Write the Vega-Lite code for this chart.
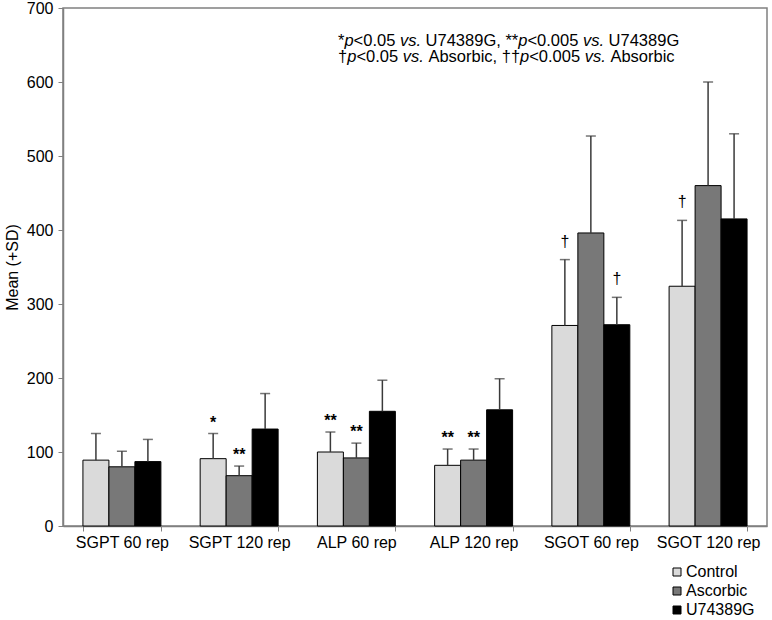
{
  "$schema": "https://vega.github.io/schema/vega-lite/v6.json",
  "width": 704,
  "height": 518,
  "autosize": {"type": "none"},
  "padding": {"left": 63, "top": 8, "right": 5, "bottom": 94},
  "background": "white",
  "config": {
    "font": "Liberation Sans",
    "view": {"stroke": "#808080", "strokeWidth": 1.5},
    "axis": {"domainColor": "#808080", "tickColor": "#808080", "labelColor": "black", "labelFont": "Liberation Sans", "titleFont": "Liberation Sans", "grid": false}
  },
  "datasets": {
    "bars": [
      {"cat": "SGPT 60 rep", "grp": "Control", "mean": 89, "upper": 125, "sig": ""},
      {"cat": "SGPT 60 rep", "grp": "Ascorbic", "mean": 80, "upper": 101, "sig": ""},
      {"cat": "SGPT 60 rep", "grp": "U74389G", "mean": 87, "upper": 117, "sig": ""},
      {"cat": "SGPT 120 rep", "grp": "Control", "mean": 91, "upper": 125, "sig": "*"},
      {"cat": "SGPT 120 rep", "grp": "Ascorbic", "mean": 68, "upper": 81, "sig": "**"},
      {"cat": "SGPT 120 rep", "grp": "U74389G", "mean": 131, "upper": 179, "sig": ""},
      {"cat": "ALP 60 rep", "grp": "Control", "mean": 100, "upper": 127, "sig": "**"},
      {"cat": "ALP 60 rep", "grp": "Ascorbic", "mean": 92, "upper": 112, "sig": "**"},
      {"cat": "ALP 60 rep", "grp": "U74389G", "mean": 155, "upper": 197, "sig": ""},
      {"cat": "ALP 120 rep", "grp": "Control", "mean": 82, "upper": 104, "sig": "**"},
      {"cat": "ALP 120 rep", "grp": "Ascorbic", "mean": 89, "upper": 104, "sig": "**"},
      {"cat": "ALP 120 rep", "grp": "U74389G", "mean": 157, "upper": 199, "sig": ""},
      {"cat": "SGOT 60 rep", "grp": "Control", "mean": 271, "upper": 360, "sig": "†"},
      {"cat": "SGOT 60 rep", "grp": "Ascorbic", "mean": 396, "upper": 527, "sig": ""},
      {"cat": "SGOT 60 rep", "grp": "U74389G", "mean": 272, "upper": 309, "sig": "†"},
      {"cat": "SGOT 120 rep", "grp": "Control", "mean": 324, "upper": 413, "sig": "†"},
      {"cat": "SGOT 120 rep", "grp": "Ascorbic", "mean": 460, "upper": 600, "sig": ""},
      {"cat": "SGOT 120 rep", "grp": "U74389G", "mean": 415, "upper": 530, "sig": ""}
    ],
    "note": [{"id": 1}]
  },
  "encoding": {
    "x": {
      "field": "cat", "type": "nominal",
      "scale": {"domain": ["SGPT 60 rep", "SGPT 120 rep", "ALP 60 rep", "ALP 120 rep", "SGOT 60 rep", "SGOT 120 rep"], "paddingInner": 0.335, "paddingOuter": 0.17},
      "axis": {"title": null, "labelAngle": 0, "labelFontSize": 16, "tickBand": "extent", "tickSize": 5, "labelPadding": 3, "domainWidth": 1.5}
    }
  },
  "layer": [
    {
      "data": {"name": "bars"},
      "layer": [
        {
          "mark": {"type": "bar", "stroke": "black", "strokeWidth": 1},
          "encoding": {
            "xOffset": {"field": "grp", "type": "nominal", "scale": {"domain": ["Control", "Ascorbic", "U74389G"], "paddingInner": 0, "paddingOuter": 0}},
            "y": {"field": "mean", "type": "quantitative", "scale": {"domain": [0, 700], "nice": false}, "axis": {"title": "Mean (+SD)", "titleFontSize": 16, "titleFontWeight": "normal", "titleColor": "black", "titlePadding": 6, "labelFontSize": 16, "values": [0, 100, 200, 300, 400, 500, 600, 700], "tickSize": 5, "labelPadding": 5, "domainWidth": 1.5}},
            "fill": {"field": "grp", "type": "nominal", "scale": {"domain": ["Control", "Ascorbic", "U74389G"], "range": ["#dadada", "#787878", "#000000"]},
              "legend": {"title": null, "orient": "none", "legendX": 606, "legendY": 556, "padding": 0, "labelFontSize": 16, "labelColor": "black", "symbolType": "square", "symbolSize": 64, "symbolStrokeColor": "black", "symbolStrokeWidth": 1, "rowPadding": 3, "labelOffset": 1}}
          }
        },
        {
          "mark": {"type": "rule", "color": "#3a3a3a", "strokeWidth": 1.5},
          "encoding": {
            "xOffset": {"field": "grp", "type": "nominal"},
            "y": {"field": "mean", "type": "quantitative"},
            "y2": {"field": "upper"}
          }
        },
        {
          "mark": {"type": "tick", "color": "#3a3a3a", "size": 10, "thickness": 1.5},
          "encoding": {
            "xOffset": {"field": "grp", "type": "nominal"},
            "y": {"field": "upper", "type": "quantitative"}
          }
        },
        {
          "transform": [{"filter": "datum.sig == '*' || datum.sig == '**'"}],
          "mark": {"type": "text", "fontSize": 16, "fontWeight": "bold", "baseline": "alphabetic", "dy": -6, "color": "black"},
          "encoding": {
            "xOffset": {"field": "grp", "type": "nominal"},
            "y": {"field": "upper", "type": "quantitative"},
            "text": {"field": "sig"}
          }
        },
        {
          "transform": [{"filter": "datum.sig == '†'"}],
          "mark": {"type": "text", "fontSize": 16, "baseline": "alphabetic", "dy": -13, "color": "black"},
          "encoding": {
            "xOffset": {"field": "grp", "type": "nominal"},
            "y": {"field": "upper", "type": "quantitative"},
            "text": {"field": "sig"}
          }
        }
      ]
    },
    {
      "data": {"name": "note"},
      "layer": [
        {"mark": {"type": "text", "fontSize": 16.5, "align": "left", "baseline": "alphabetic", "dx": -18.4}, "encoding": {"x": {"datum": "ALP 60 rep"}, "y": {"datum": 648}, "text": {"value": "*"}}},
        {"mark": {"type": "text", "fontSize": 16.5, "align": "left", "baseline": "alphabetic", "fontStyle": "italic", "dx": -12.0}, "encoding": {"x": {"datum": "ALP 60 rep"}, "y": {"datum": 648}, "text": {"value": "p"}}},
        {"mark": {"type": "text", "fontSize": 16.5, "align": "left", "baseline": "alphabetic", "dx": -2.8}, "encoding": {"x": {"datum": "ALP 60 rep"}, "y": {"datum": 648}, "text": {"value": "<0.05"}}},
        {"mark": {"type": "text", "fontSize": 16.5, "align": "left", "baseline": "alphabetic", "fontStyle": "italic", "dx": 43.5}, "encoding": {"x": {"datum": "ALP 60 rep"}, "y": {"datum": 648}, "text": {"value": "vs."}}},
        {"mark": {"type": "text", "fontSize": 16.5, "align": "left", "baseline": "alphabetic", "dx": 69.2}, "encoding": {"x": {"datum": "ALP 60 rep"}, "y": {"datum": 648}, "text": {"value": "U74389G, **"}}},
        {"mark": {"type": "text", "fontSize": 16.5, "align": "left", "baseline": "alphabetic", "fontStyle": "italic", "dx": 161.8}, "encoding": {"x": {"datum": "ALP 60 rep"}, "y": {"datum": 648}, "text": {"value": "p"}}},
        {"mark": {"type": "text", "fontSize": 16.5, "align": "left", "baseline": "alphabetic", "dx": 171.0}, "encoding": {"x": {"datum": "ALP 60 rep"}, "y": {"datum": 648}, "text": {"value": "<0.005"}}},
        {"mark": {"type": "text", "fontSize": 16.5, "align": "left", "baseline": "alphabetic", "fontStyle": "italic", "dx": 226.5}, "encoding": {"x": {"datum": "ALP 60 rep"}, "y": {"datum": 648}, "text": {"value": "vs."}}},
        {"mark": {"type": "text", "fontSize": 16.5, "align": "left", "baseline": "alphabetic", "dx": 252.2}, "encoding": {"x": {"datum": "ALP 60 rep"}, "y": {"datum": 648}, "text": {"value": "U74389G"}}},
        {"mark": {"type": "text", "fontSize": 16.5, "align": "left", "baseline": "alphabetic", "dx": -18.4}, "encoding": {"x": {"datum": "ALP 60 rep"}, "y": {"datum": 627.5}, "text": {"value": "†"}}},
        {"mark": {"type": "text", "fontSize": 16.5, "align": "left", "baseline": "alphabetic", "fontStyle": "italic", "dx": -9.2}, "encoding": {"x": {"datum": "ALP 60 rep"}, "y": {"datum": 627.5}, "text": {"value": "p"}}},
        {"mark": {"type": "text", "fontSize": 16.5, "align": "left", "baseline": "alphabetic", "dx": 0}, "encoding": {"x": {"datum": "ALP 60 rep"}, "y": {"datum": 627.5}, "text": {"value": "<0.05"}}},
        {"mark": {"type": "text", "fontSize": 16.5, "align": "left", "baseline": "alphabetic", "fontStyle": "italic", "dx": 46.3}, "encoding": {"x": {"datum": "ALP 60 rep"}, "y": {"datum": 627.5}, "text": {"value": "vs."}}},
        {"mark": {"type": "text", "fontSize": 16.5, "align": "left", "baseline": "alphabetic", "dx": 72.0}, "encoding": {"x": {"datum": "ALP 60 rep"}, "y": {"datum": 627.5}, "text": {"value": "Absorbic, ††"}}},
        {"mark": {"type": "text", "fontSize": 16.5, "align": "left", "baseline": "alphabetic", "fontStyle": "italic", "dx": 163.7}, "encoding": {"x": {"datum": "ALP 60 rep"}, "y": {"datum": 627.5}, "text": {"value": "p"}}},
        {"mark": {"type": "text", "fontSize": 16.5, "align": "left", "baseline": "alphabetic", "dx": 172.8}, "encoding": {"x": {"datum": "ALP 60 rep"}, "y": {"datum": 627.5}, "text": {"value": "<0.005"}}},
        {"mark": {"type": "text", "fontSize": 16.5, "align": "left", "baseline": "alphabetic", "fontStyle": "italic", "dx": 228.3}, "encoding": {"x": {"datum": "ALP 60 rep"}, "y": {"datum": 627.5}, "text": {"value": "vs."}}},
        {"mark": {"type": "text", "fontSize": 16.5, "align": "left", "baseline": "alphabetic", "dx": 254.0}, "encoding": {"x": {"datum": "ALP 60 rep"}, "y": {"datum": 627.5}, "text": {"value": "Absorbic"}}}
      ]
    }
  ]
}
